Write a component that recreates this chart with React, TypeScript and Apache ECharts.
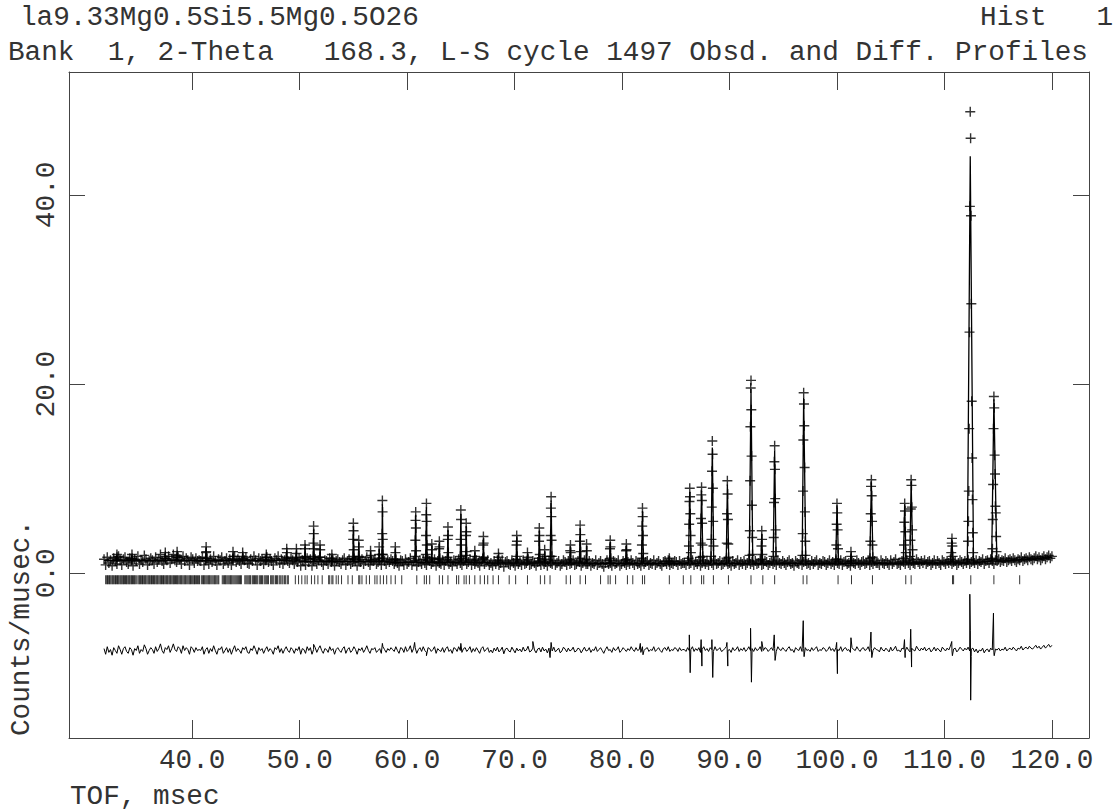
import { useEffect, useRef } from "react";
import * as echarts from "echarts";

// ---------- texts ----------
const titleLine1 = "la9.33Mg0.5Si5.5Mg0.5O26";
const histLabel = "Hist   1";
const titleLine2 = "Bank  1, 2-Theta   168.3, L-S cycle 1497 Obsd. and Diff. Profiles";
const xName = "TOF, msec";
const yName = "Counts/musec.";

// ---------- axes ----------
const xTicks = [40, 50, 60, 70, 80, 90, 100, 110, 120];
const yTicks = [0, 20, 40];
const xMin = 28.54;
const xMax = 123.45;
const yMin = -17.4;
const yMax = 53.0;

// ---------- observed background channels (start 31.8, step 0.15 msec) ----------
const bgStart = 31.8;
const bgStep = 0.15;
const bgSeg1 = [1.5, 0.9, 1.7, 1.1, 1.4, 0.8, 1.6, 1.3, 1.0, 1.8, 1.4, 0.9, 1.5, 1.7, 1.2, 1.0, 1.6, 1.4, 0.8, 1.5, 1.3, 1.8, 1.0, 1.4, 1.2, 1.9, 1.5, 0.9, 1.3, 1.6, 1.4, 1.0, 1.7, 1.2, 1.5, 2.0, 1.3, 1.0, 1.6, 1.4, 1.8, 1.1, 1.5, 2.0, 1.4, 1.2, 1.7, 1.5, 1.0, 1.8, 1.3, 1.6, 1.4, 0.9, 1.7, 1.5, 1.1, 1.6, 1.3, 1.4];
const bgSeg2 = [1.3, 1.7, 0.9, 1.4, 1.6, 1.0, 1.5, 1.2, 1.8, 1.3, 0.9, 1.5, 1.4, 1.7, 1.0, 1.3, 1.6, 1.1, 1.5, 0.9, 1.4, 1.8, 1.2, 1.5, 1.3, 1.0, 1.6, 1.4, 1.7, 1.1, 1.0, 1.5, 1.3, 1.8, 1.4, 0.9, 1.6, 1.3, 1.5, 1.0, 1.4, 1.7, 1.2, 1.5, 1.3, 0.9, 1.6, 1.4, 1.8, 1.1, 1.5, 1.0, 1.4, 1.7, 1.3, 1.1, 1.6, 1.4, 1.0, 1.5];
const bgSeg3 = [1.2, 1.6, 0.8, 1.4, 1.3, 0.9, 1.6, 1.2, 1.5, 0.8, 1.3, 1.5, 1.0, 1.4, 1.7, 1.2, 0.9, 1.4, 1.3, 1.0, 1.6, 1.2, 1.4, 0.8, 1.3, 1.5, 1.2, 1.0, 1.4, 1.6, 0.9, 1.3, 1.5, 1.0, 1.2, 1.6, 1.3, 0.8, 1.4, 1.2, 1.5, 1.0, 1.3, 1.7, 1.2, 0.9, 1.4, 1.3, 1.5, 1.0, 1.2, 1.4, 0.9, 1.6, 1.3, 1.0, 1.4, 1.2, 1.5, 1.3];
const bgSeg4 = [1.0, 1.5, 1.1, 0.8, 1.4, 1.3, 0.9, 1.5, 1.0, 1.2, 1.6, 0.9, 1.3, 1.4, 0.8, 1.2, 1.4, 1.0, 1.5, 1.1, 0.9, 1.4, 1.3, 1.0, 1.2, 1.5, 0.8, 1.3, 1.1, 1.0, 1.4, 0.9, 1.3, 1.5, 1.0, 1.2, 0.8, 1.4, 1.3, 1.0, 1.5, 1.1, 0.9, 1.3, 1.4, 1.0, 1.2, 1.5, 0.9, 1.3, 1.0, 1.4, 1.1, 0.8, 1.3, 1.5, 1.0, 1.2, 1.4, 0.9];
const bgSeg5 = [1.1, 0.8, 1.3, 1.0, 1.4, 0.9, 1.1, 1.4, 0.7, 1.2, 1.3, 1.0, 0.9, 1.4, 1.1, 0.8, 1.3, 1.0, 1.2, 0.9, 1.4, 1.0, 1.1, 1.5, 0.9, 1.0, 1.3, 1.1, 0.8, 1.2, 1.3, 0.9, 1.4, 1.0, 1.2, 0.8, 1.3, 1.1, 1.0, 1.4, 0.9, 1.1, 1.3, 0.8, 1.0, 1.4, 1.2, 0.9, 1.3, 1.0, 1.1, 1.4, 0.9, 1.0, 1.3, 1.2, 0.8, 1.1, 1.4, 1.0];
const bgSeg6 = [1.0, 1.3, 0.8, 1.1, 1.0, 1.4, 0.9, 1.1, 1.3, 1.0, 0.7, 1.1, 1.4, 1.0, 1.1, 0.8, 1.3, 1.0, 1.1, 1.4, 0.8, 1.0, 1.3, 1.1, 0.9, 1.2, 1.0, 1.4, 1.1, 0.9, 1.3, 1.0, 1.1, 0.8, 1.4, 1.0, 1.2, 1.3, 0.9, 1.1, 1.0, 1.4, 0.9, 1.1, 1.3, 1.0, 0.8, 1.2, 1.3, 1.0, 1.4, 0.9, 1.1, 1.0, 1.3, 1.2, 0.9, 1.3, 1.0, 1.1];
const bgSeg7 = [1.1, 0.9, 1.3, 1.0, 1.1, 1.4, 0.9, 1.2, 1.0, 1.3, 0.8, 1.1, 1.4, 1.0, 1.2, 0.9, 1.3, 1.1, 0.9, 1.4, 1.0, 1.1, 1.3, 0.9, 1.0, 1.2, 1.4, 1.0, 1.1, 0.8, 1.3, 1.0, 1.1, 1.4, 0.9, 1.2, 1.0, 1.3, 0.9, 1.1, 1.4, 1.0, 1.2, 0.9, 1.3, 1.0, 1.1, 1.4, 0.9, 1.0, 1.3, 1.2, 0.9, 1.1, 1.3, 1.0, 1.2, 0.9, 1.4, 1.1];
const bgSeg8 = [1.0, 1.3, 1.1, 0.9, 1.2, 1.4, 1.0, 1.1, 0.8, 1.3, 1.1, 1.0, 1.4, 0.9, 1.2, 1.3, 1.0, 1.1, 0.9, 1.3, 1.0, 1.2, 1.4, 0.9, 1.1, 1.0, 1.3, 1.2, 0.9, 1.1, 1.4, 1.0, 1.2, 0.9, 1.3, 1.1, 1.0, 1.4, 0.9, 1.2, 1.3, 1.0, 1.1, 0.8, 1.3, 1.1, 1.0, 1.4, 1.1, 0.9, 1.2, 1.3, 1.0, 1.1, 1.4, 0.9, 1.2, 1.0, 1.3, 1.1];
const bgSeg9 = [1.1, 0.9, 1.4, 1.1, 1.0, 1.3, 1.1, 0.9, 1.4, 1.0, 1.2, 1.5, 1.0, 1.1, 0.9, 1.3, 1.2, 1.0, 1.4, 1.1, 0.9, 1.3, 1.1, 1.0, 1.5, 1.2, 1.0, 1.3, 1.1, 1.4, 1.0, 1.2, 1.3, 0.9, 1.1, 1.4, 1.0, 1.3, 1.1, 0.9, 1.4, 1.2, 1.0, 1.3, 1.1, 1.5, 1.0, 1.2, 1.3, 0.9, 1.1, 1.4, 1.2, 1.0, 1.3, 1.1, 1.4, 1.0, 1.2, 1.3];
const bgSeg10 = [1.1, 1.4, 1.0, 1.3, 1.2, 1.5, 1.0, 1.3, 1.4, 1.1, 1.5, 1.3, 1.0, 1.4, 1.3, 1.5, 1.2, 1.4, 1.3, 1.6, 1.2, 1.4, 1.5, 1.3, 1.6, 1.4, 1.2, 1.5, 1.4, 1.7, 1.3, 1.5, 1.6, 1.4, 1.7, 1.5, 1.4, 1.6, 1.8, 1.5, 1.7, 1.4, 1.6, 1.8, 1.5, 1.7, 1.9, 1.6, 1.8];
// calculated background level for each segment above
const bgLevels = [1.35, 1.35, 1.25, 1.15, 1.1, 1.05, 1.05, 1.05, 1.1, 1.3];

// calculated background curve
const calcBgTof = [31.8, 40.2, 49.6, 58.3, 67.7, 77.5, 84.9, 98.5, 109.0, 113.5, 117.5, 120.0];
const calcBgLevel = [1.35, 1.35, 1.3, 1.2, 1.1, 1.05, 1.05, 1.05, 1.1, 1.2, 1.45, 1.7];

// ---------- Bragg peaks ----------
const peakTof = [
  33.0, 34.4, 37.5, 38.6, 41.3, 43.8, 44.7, 46.9, 48.8, 49.7,
  50.5, 51.3, 51.9, 53.0, 55.0, 55.5, 56.6, 57.4, 57.7, 58.9,
  60.8, 61.8, 62.3, 63.0, 63.8, 65.0, 65.5, 66.3, 67.1, 68.5,
  70.2, 71.2, 72.3, 72.8, 73.4, 75.2, 76.1, 76.7, 78.9, 80.4,
  81.9, 84.4, 86.3, 87.4, 88.4, 89.8, 92.0, 93.0, 94.2, 96.9,
  100.0, 101.3, 103.2, 106.3, 106.9, 110.7, 112.4, 114.6,
];
const peakCalc = [
  1.9, 1.8, 2.0, 2.0, 2.5, 2.1, 2.1, 1.9, 2.4, 2.4,
  2.8, 4.6, 2.7, 1.8, 5.0, 3.2, 2.2, 2.6, 7.3, 2.6,
  6.2, 7.0, 2.9, 3.1, 4.6, 6.3, 5.0, 2.2, 3.6, 1.9,
  3.8, 2.0, 4.5, 2.3, 7.7, 2.8, 4.8, 2.9, 3.3, 2.9,
  6.6, 1.4, 8.6, 8.7, 13.3, 9.4, 19.5, 4.2, 13.0, 18.6,
  7.2, 2.1, 9.6, 7.3, 9.7, 3.5, 44.1, 18.4,
];
const peakObs = [
  [1.5, 2.0, 1.7], [1.5, 2.0, 1.6], [1.6, 2.2, 1.8], [1.7, 2.3, 1.9],
  [1.6, 2.2, 2.8, 2.3, 1.6], [1.5, 2.3, 1.8], [1.5, 2.2, 1.8], [1.4, 2.0, 1.7],
  [1.6, 2.6, 2.2], [1.7, 2.6, 2.1],
  [1.7, 3.0, 2.6, 1.8], [1.8, 3.2, 5.0, 4.2, 2.6, 1.6], [1.7, 3.0, 2.5], [1.4, 2.0, 1.6],
  [1.8, 3.6, 5.3, 4.5, 2.5, 1.5], [1.7, 3.5, 2.8, 1.8], [1.4, 2.4, 1.9], [1.6, 2.8, 2.0],
  [2.0, 4.2, 7.7, 6.5, 3.6, 2.0], [1.5, 2.8, 2.2, 1.4],
  [1.8, 3.5, 5.6, 6.5, 4.8, 2.4], [2.0, 4.0, 6.2, 7.4, 5.5, 3.0, 1.7], [1.6, 3.1, 2.5],
  [1.5, 2.6, 3.4, 2.8, 1.6], [1.7, 3.6, 4.9, 4.0, 2.2], [1.8, 3.6, 6.7, 5.7, 3.0, 1.6],
  [1.9, 4.0, 5.3, 4.4, 2.3], [1.4, 2.4, 1.8], [1.6, 3.0, 3.9, 3.2, 1.7], [1.3, 2.1, 1.7],
  [1.5, 3.0, 4.0, 3.4, 1.8], [1.3, 2.2, 1.7], [1.6, 3.4, 4.8, 4.0, 2.0], [1.5, 2.5, 1.8],
  [1.8, 4.0, 6.9, 8.1, 6.0, 3.5, 1.8], [1.5, 2.4, 3.0, 2.2], [1.6, 3.4, 5.1, 4.1, 2.3],
  [1.5, 3.1, 2.4], [1.4, 2.6, 3.5, 2.8, 1.6], [1.4, 2.4, 3.1, 2.5, 1.5],
  [1.6, 3.0, 5.0, 6.9, 6.0, 4.0, 2.1], [1.2, 1.6, 1.3],
  [1.6, 2.9, 5.2, 7.6, 9.0, 8.1, 6.3, 4.0, 2.2],
  [1.7, 3.2, 5.8, 8.3, 9.1, 7.7, 5.3, 3.0, 1.8],
  [1.8, 3.6, 7.0, 10.8, 14.0, 12.6, 9.0, 5.5, 2.9],
  [1.6, 3.2, 6.3, 9.8, 8.4, 5.7, 3.1, 1.7],
  [1.9, 4.5, 9.8, 15.5, 19.6, 20.4, 17.3, 12.4, 7.2, 3.8, 2.0],
  [1.5, 2.9, 4.5, 3.6, 2.0],
  [1.8, 3.8, 7.5, 11.8, 13.5, 11.0, 7.9, 4.6, 2.3],
  [1.9, 4.2, 8.7, 14.1, 19.1, 17.9, 15.6, 11.2, 6.5, 3.4, 1.9],
  [1.5, 3.0, 5.2, 7.4, 6.4, 4.6, 2.6, 1.5],
  [1.3, 2.3, 1.8],
  [1.6, 3.4, 6.3, 9.2, 9.9, 8.2, 5.5, 3.0, 1.7],
  [1.6, 3.0, 5.4, 7.4, 6.6, 4.4, 2.2],
  [1.8, 3.5, 6.8, 9.9, 9.3, 7.0, 4.6, 2.5],
  [1.3, 2.2, 3.2, 3.7, 2.9, 1.8],
  [1.5, 3.4, 5.5, 8.7, 15.3, 25.5, 38.8, 48.8, 46.0, 37.8, 28.5, 18.2, 12.2, 7.8, 4.3, 2.2],
  [1.6, 2.6, 5.7, 9.4, 15.3, 18.7, 17.5, 12.5, 10.5, 7.1, 6.4, 3.9, 2.3],
];

// ---------- difference curve ----------
const diffOffset = -8.1;
const diffSpikes: [number, number][] = [
  [51.3, -7.5], [57.7, -7.4], [60.7, -7.3], [61.8, -8.7], [65.0, -7.4],
  [71.7, -7.2], [73.3, -8.9], [73.4, -7.3], [81.7, -7.4], [81.95, -8.6],
  [86.26, -6.5], [86.34, -10.5], [87.36, -7.0], [87.43, -9.8],
  [88.36, -7.0], [88.44, -11.0], [89.76, -7.3], [89.84, -9.8],
  [91.96, -5.8], [92.04, -11.5], [93.0, -7.2], [94.16, -6.5], [94.24, -9.2],
  [96.86, -5.0], [96.94, -8.8], [99.97, -7.3], [100.04, -10.6], [101.3, -6.8],
  [103.16, -6.2], [103.24, -8.9], [106.28, -7.0], [106.34, -8.9],
  [106.86, -5.9], [106.94, -9.9], [110.68, -7.2], [110.74, -8.7],
  [112.36, -2.2], [112.41, -6.0], [112.44, -13.4], [112.49, -8.8],
  [114.56, -4.2], [114.63, -8.7],
];

// ---------- reflection positions ----------
const reflections = [
  31.95, 32.05, 32.12, 32.2, 32.3, 32.36, 32.45, 32.55, 32.62, 32.7, 32.8, 32.87, 32.95, 33.05, 33.12, 33.2,
  33.3, 33.38, 33.46, 33.55, 33.62, 33.7, 33.8, 33.88, 33.95, 34.05, 34.13, 34.2, 34.3, 34.37, 34.45, 34.55,
  34.62, 34.7, 34.8,
  34.95, 35.05, 35.12, 35.2, 35.3, 35.38, 35.45, 35.55, 35.63, 35.7, 35.8, 35.9, 35.98, 36.05, 36.15, 36.22,
  36.3, 36.4, 36.48, 36.55, 36.65, 36.73, 36.8, 36.9, 37.0, 37.08, 37.15, 37.25, 37.33, 37.4, 37.5, 37.6,
  37.68, 37.75, 37.85, 37.93, 38.0, 38.1, 38.2, 38.28, 38.35, 38.45, 38.55, 38.62, 38.7, 38.8, 38.9, 38.98,
  39.05, 39.15, 39.25, 39.33, 39.4, 39.5, 39.6, 39.7, 39.78, 39.85, 39.95, 40.05, 40.15, 40.22, 40.3, 40.4,
  40.5, 40.6, 40.68,
  40.85, 40.95, 41.05, 41.12, 41.2, 41.3, 41.4, 41.5, 41.58, 41.65, 41.75, 41.85, 41.95, 42.05, 42.12, 42.2,
  42.3, 42.4, 42.48,
  42.8, 42.9, 43.0, 43.08, 43.15, 43.25, 43.35, 43.45, 43.55, 43.62, 43.7, 43.8, 43.9, 44.0, 44.1, 44.2,
  44.3, 44.4, 44.5, 44.58,
  44.9, 45.0, 45.1, 45.2, 45.3, 45.38, 45.45, 45.6, 45.7, 45.8, 45.9, 46.0, 46.1, 46.25, 46.35, 46.45,
  46.55, 46.7, 46.8, 46.9, 47.0, 47.1, 47.3, 47.4, 47.5, 47.6, 47.75, 47.85, 47.95, 48.1, 48.2, 48.35,
  48.45, 48.6, 48.7, 48.85, 48.95,
  49.6, 49.9, 50.2, 50.5, 50.7, 51.1, 51.4, 51.7, 52.1, 52.7, 52.8, 53.0, 53.1, 53.4, 53.6, 53.9,
  54.5, 54.9, 55.5, 55.6, 55.8, 56.2, 56.5, 57.0, 57.2, 57.5, 57.8, 58.1, 58.5, 58.9, 59.5, 60.9,
  61.6, 61.8, 62.1, 63.0, 63.3, 63.8, 64.6, 64.8, 65.3, 65.5, 65.8, 66.3, 66.8, 67.2, 67.5, 68.0,
  68.5, 69.5, 70.1, 71.2, 72.4, 72.8, 73.3, 74.8, 75.2, 76.1, 76.6, 78.0, 78.7, 78.9, 79.4, 80.5,
  81.0, 81.9, 82.1, 84.4, 85.7, 86.4, 87.4, 87.6, 88.5, 89.9, 92.0, 93.1, 94.2, 96.85, 97.2, 100.1,
  101.35, 103.3, 106.4, 106.9, 110.75, 110.85, 112.45, 114.6, 117.0,
];

const FONT = "'Liberation Mono', 'DejaVu Sans Mono', monospace";
const FS = 27.7;
const TXT = "#333";
const AX = "#444";

function buildData() {
  const segs = [bgSeg1, bgSeg2, bgSeg3, bgSeg4, bgSeg5, bgSeg6, bgSeg7, bgSeg8, bgSeg9, bgSeg10];
  const obs: [number, number][] = [];
  const diff: [number, number][] = [];
  let idx = 0;
  segs.forEach((seg, s) => {
    seg.forEach((v) => {
      const t = +(bgStart + idx * bgStep).toFixed(3);
      obs.push([t, v]);
      diff.push([t, +(v - bgLevels[s] + diffOffset).toFixed(3)]);
      idx++;
    });
  });
  diffSpikes.forEach((p) => diff.push(p));
  diff.sort((a, b) => a[0] - b[0]);

  const calc: [number, number][] = calcBgTof.map((t, i) => [t, calcBgLevel[i]]);
  const segLen = 60 * bgStep;
  peakTof.forEach((t, i) => {
    const vals = peakObs[i];
    const apex = vals.indexOf(Math.max(...vals));
    const dt = 0.0003 * t;
    vals.forEach((v, j) => obs.push([t + (j - apex) * dt, v]));
    const s = Math.min(bgLevels.length - 1, Math.max(0, Math.floor((t - bgStart) / segLen)));
    const foot = bgLevels[s];
    calc.push([t - (apex + 1) * dt, foot]);
    calc.push([t, peakCalc[i]]);
    calc.push([t + (vals.length - apex) * dt, foot]);
  });
  calc.sort((a, b) => a[0] - b[0]);
  const ticks = reflections.map((t) => [t, -0.68]);
  return { obs, diff, calc, ticks };
}

export default function App() {
  const ref = useRef<HTMLDivElement>(null);
  useEffect(() => {
    if (!ref.current) return;
    const chart = echarts.init(ref.current, undefined, { renderer: "svg" });
    const { obs, diff, calc, ticks } = buildData();
    const fmt = (v: number) => v.toFixed(1);
    const lineStyle = { color: AX, width: 1 };
    const font = `${FS}px ${FONT}`;
    chart.setOption({
      animation: false,
      backgroundColor: "#fff",
      grid: { left: 69, right: 28, top: 72, bottom: 74, containLabel: false, outerBoundsMode: "none" },
      xAxis: [
        {
          type: "value", min: xMin, max: xMax, position: "bottom",
          axisLine: { show: true, onZero: false, lineStyle },
          axisTick: { show: true, inside: true, length: 18, customValues: xTicks, lineStyle },
          axisLabel: { show: true, customValues: xTicks, formatter: fmt, fontFamily: FONT, fontSize: FS, color: TXT, margin: 8 },
          splitLine: { show: false },
        },
        {
          type: "value", min: xMin, max: xMax, position: "top",
          axisLine: { show: true, onZero: false, lineStyle },
          axisTick: { show: true, inside: true, length: 18, customValues: xTicks, lineStyle },
          axisLabel: { show: false },
          splitLine: { show: false },
        },
      ],
      yAxis: [
        {
          type: "value", min: yMin, max: yMax, position: "left",
          axisLine: { show: true, onZero: false, lineStyle },
          axisTick: { show: true, inside: true, length: 16, customValues: yTicks, lineStyle },
          axisLabel: { show: true, customValues: yTicks, formatter: fmt, rotate: 90, fontFamily: FONT, fontSize: FS, color: TXT, margin: 9 },
          splitLine: { show: false },
        },
        {
          type: "value", min: yMin, max: yMax, position: "right",
          axisLine: { show: true, onZero: false, lineStyle },
          axisTick: { show: true, inside: true, length: 16, customValues: yTicks, lineStyle },
          axisLabel: { show: false },
          splitLine: { show: false },
        },
      ],
      graphic: [
        { type: "text", x: 20, y: 17, style: { text: titleLine1, font, fill: TXT, align: "left", verticalAlign: "middle" } },
        { type: "text", x: 1113, y: 17, style: { text: histLabel, font, fill: TXT, align: "right", verticalAlign: "middle" } },
        { type: "text", x: 8, y: 52, style: { text: titleLine2, font, fill: TXT, align: "left", verticalAlign: "middle" } },
        { type: "text", x: 70, y: 796, style: { text: xName, font, fill: TXT, align: "left", verticalAlign: "middle" } },
        { type: "text", x: 21, y: 736, rotation: Math.PI / 2, style: { text: yName, font, fill: TXT, align: "left", verticalAlign: "middle" } },
      ],
      series: [
        {
          name: "Observed", type: "scatter", data: obs, silent: true,
          symbol: "path://M0 5L10 5M5 0L5 10", symbolSize: 10, symbolKeepAspect: true,
          itemStyle: { color: "rgba(0,0,0,0)", borderColor: "#000", borderWidth: 1.4 },
          z: 3,
        },
        {
          name: "Calculated", type: "line", data: calc, silent: true, symbol: "none", showSymbol: false,
          lineStyle: { color: "#000", width: 1.3 }, z: 4,
        },
        {
          name: "Difference", type: "line", data: diff, silent: true, symbol: "none", showSymbol: false,
          lineStyle: { color: "#000", width: 1 }, z: 4,
        },
        {
          name: "Reflections", type: "scatter", data: ticks, silent: true,
          symbol: "rect", symbolSize: [1, 9], itemStyle: { color: "#000" }, z: 2,
        },
      ],
    });
    return () => chart.dispose();
  }, []);
  return (
    <div
      ref={ref}
      style={{ position: "fixed", left: 0, top: 0, width: 1117, height: 812, background: "#fff" }}
    />
  );
}
